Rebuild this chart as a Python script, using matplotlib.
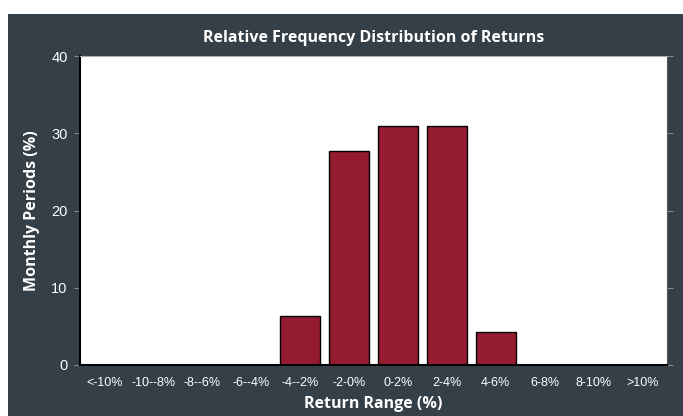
import matplotlib.pyplot as plt
from matplotlib.patches import Rectangle

# return ranges and share of monthly periods (%)
ranges = ['<-10%', '-10--8%', '-8--6%', '-6--4%', '-4--2%', '-2-0%',
          '0-2%', '2-4%', '4-6%', '6-8%', '8-10%', '>10%']
freq = [0, 0, 0, 0, 6.4, 27.7, 30.9, 30.9, 4.3, 0, 0, 0]
yticks = [0, 10, 20, 30, 40]

bg = '#343f48'
barcol = '#951b30'

fig = plt.figure(figsize=(6.83, 4.16), dpi=100)
fig.patch.set_facecolor('white')
# dark panel behind the chart, white strip on top and left
fig.patches.append(Rectangle((8 / 683, 0), 1, 1 - 14 / 416,
                             transform=fig.transFigure, facecolor=bg,
                             edgecolor='none', zorder=-5))

ax = fig.add_axes([80 / 683, 1 - 365 / 416, 587 / 683, 309 / 416])
ax.set_facecolor('white')

x = range(len(ranges))
ax.bar(x, freq, width=0.82, color=barcol, edgecolor='black', linewidth=1)

ax.set_xlim(-0.5, len(ranges) - 0.5)
ax.set_ylim(0, 40)
ax.set_yticks(yticks)
ax.set_xticks(list(x))
ax.set_xticklabels(ranges)

ax.tick_params(axis='x', length=0, pad=9, labelsize=9, labelcolor='white')
ax.tick_params(axis='y', length=4, color='#888888', labelsize=10.5,
               labelcolor='white', right=True, direction='out', pad=5)
for lab in ax.get_xticklabels() + ax.get_yticklabels():
    lab.set_fontfamily('Liberation Sans')

ax.spines['left'].set_color('black')
ax.spines['bottom'].set_color('black')
ax.spines['bottom'].set_linewidth(1.5)
ax.spines['left'].set_linewidth(1.5)
ax.spines['top'].set_color('#aaaaaa')
ax.spines['right'].set_color('#555555')

ax.set_title('Relative Frequency Distribution of Returns', color='white',
             fontsize=11.5, fontweight='bold', fontfamily='Open Sans', pad=10)
ax.set_xlabel('Return Range (%)', color='white', fontsize=11.5,
              fontweight='bold', fontfamily='Open Sans', labelpad=5)
ax.set_ylabel('Monthly Periods (%)', color='white', fontsize=11.5,
              fontweight='bold', fontfamily='Open Sans', labelpad=8)

fig.savefig('out.png', dpi=100, facecolor=fig.get_facecolor())
